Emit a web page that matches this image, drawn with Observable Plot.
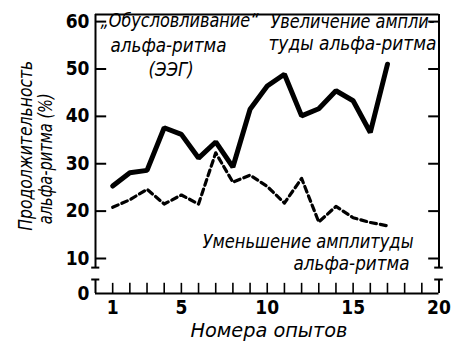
<!DOCTYPE html>
<html><head><meta charset="utf-8">
<script src="https://cdn.jsdelivr.net/npm/d3@7"></script>
<script src="https://cdn.jsdelivr.net/npm/@observablehq/plot@0.6"></script>
<style>body{margin:0;background:#fff} svg{display:block;background:#fff}</style>
</head><body><div id="chart"></div>
<script>
// --- data ---
const trials = [1,2,3,4,5,6,7,8,9,10,11,12,13,14,15,16,17];
const increase = [25.3,28.1,28.6,37.6,36.2,31.2,34.6,29.3,41.5,46.4,48.9,40.1,41.6,45.4,43.3,36.6,51.0];
const decrease = [20.8,22.4,24.6,21.5,23.4,21.5,32.3,26.1,27.6,25.2,21.7,26.9,17.7,21.0,18.6,17.6,16.9];
const xTickLabels = [1,5,10,15,20];
const xMinorTicks = [1,2,3,4,5,6,7,8,9,10,11,12,13,14,15,16,17,18,19];
const yTickLabels = [0,10,20,30,40,50,60];
const yTicks = [10,20,30,40,50,60];

const rowsInc = trials.map((t,i)=>({trial:t, value:increase[i]}));
const rowsDec = trials.map((t,i)=>({trial:t, value:decrease[i]}));

// annotation layout (data coordinates, left edge of each text)
const notes = [
  {text:"„Обусловливание“", x:0.29, y:60.1, len:158},
  {text:"альфа-ритма", x:0.87, y:54.8, len:122},
  {text:"(ЭЭГ)", x:3.09, y:49.8, len:45},
  {text:"Увеличение ампли-", x:10.19, y:59.9, len:164},
  {text:"туды альфа-ритма", x:10.07, y:55.3, len:168},
  {text:"Уменьшение амплитуды", x:6.23, y:13.4, len:211},
  {text:"альфа-ритма", x:11.53, y:8.57, len:116},
  {text:"Номера опытов", x:5.53, y:-10.6, len:157}
];
const yLabels = [
  {text:"Продолжительность", x:-4.07, y:33.8, len:170},
  {text:"альфа-ритма (%)", x:-2.91, y:31.05, len:131}
];

const FONT = "DejaVu Sans Condensed, DejaVu Sans, sans-serif";
const TOP = 61.5, BREAK_HI = 7.4, BREAK_LO = 4.0;

const plot = Plot.plot({
  width: 459, height: 353,
  margin: 0,
  style: {fontFamily: FONT, background: "#fff", color: "#000"},
  x: {type: "linear", domain: [0, 20], range: [95, 438.5], axis: null},
  y: {type: "linear", domain: [0, 10, TOP], range: [293, 258, 14], axis: null},
  marks: [
    // frame (upper part)
    Plot.ruleY([TOP], {x1: 0, x2: 20, strokeWidth: 2}),
    Plot.ruleX([0, 20], {y1: BREAK_HI, y2: TOP, strokeWidth: 2}),
    // frame (lower part) and x axis
    Plot.ruleX([0, 20], {y1: 0, y2: BREAK_LO, strokeWidth: 2}),
    Plot.ruleY([0], {x1: 0, x2: 20, strokeWidth: 2}),
    // break marks
    Plot.ruleY([BREAK_HI, BREAK_LO], {x1: -0.22, x2: 0.25, strokeWidth: 2}),
    Plot.ruleY([BREAK_HI, BREAK_LO], {x1: 19.75, x2: 20.25, strokeWidth: 2}),
    // inward ticks
    Plot.ruleY(yTicks, {x1: 0, x2: 0.65, strokeWidth: 2}),
    Plot.ruleY(yTicks, {x1: 19.4, x2: 20, strokeWidth: 2}),
    Plot.ruleX(xMinorTicks, {y1: 0, y2: 2.9, strokeWidth: 1.6}),
    // tick labels
    Plot.text(yTickLabels, {x: 0, y: d => d, dx: -6, textAnchor: "end", text: d => String(d), fontSize: 19, fontWeight: "bold", fontFamily: FONT}),
    Plot.text(xTickLabels, {x: d => d, y: 0, dy: 14, text: d => String(d), fontSize: 19, fontWeight: "bold", fontFamily: FONT}),
    // data
    Plot.line(rowsDec, {x: "trial", y: "value", stroke: "#000", strokeWidth: 3.2, strokeDasharray: "6,4"}),
    Plot.line(rowsInc, {x: "trial", y: "value", stroke: "#000", strokeWidth: 5, strokeLinejoin: "miter"}),
    // annotations
    Plot.text(notes, {x: "x", y: "y", text: "text", textAnchor: "start", fontSize: 19, fontStyle: "italic", fontFamily: FONT}),
    Plot.text(yLabels, {x: "x", y: "y", text: "text", rotate: -90, fontSize: 19, fontStyle: "italic", fontFamily: FONT})
  ]
});

// fit text widths to the reference lengths
const lens = new Map([...notes, ...yLabels].map(d => [d.text, d.len]));
d3.select(plot).selectAll("text").each(function() {
  const t = this.textContent;
  if (lens.has(t)) {
    this.setAttribute("textLength", lens.get(t));
    this.setAttribute("lengthAdjust", "spacingAndGlyphs");
  }
});
document.getElementById("chart").appendChild(plot);
</script>
</body></html>
